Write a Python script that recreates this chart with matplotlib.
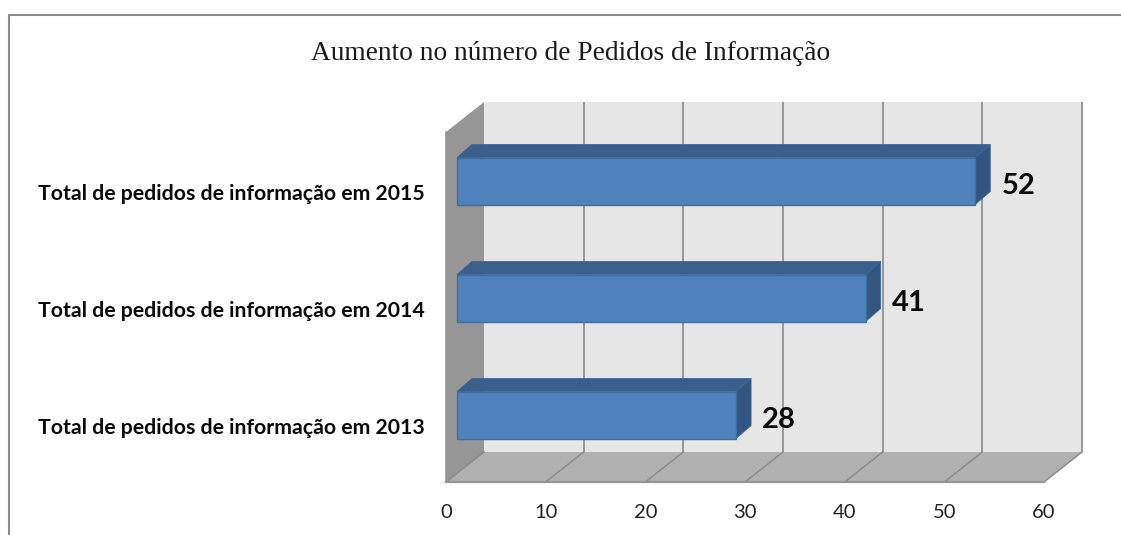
import matplotlib
matplotlib.use("Agg")
import matplotlib.pyplot as plt
from matplotlib.patches import Polygon
from matplotlib.lines import Line2D
from matplotlib.transforms import ScaledTranslation

titulo = "Aumento no número de Pedidos de Informação"
categorias = ["Total de pedidos de informação em 2013",
              "Total de pedidos de informação em 2014",
              "Total de pedidos de informação em 2015"]
valores = [28, 41, 52]
ticks = [0, 10, 20, 30, 40, 50, 60]

W, H = 1121, 535
# axes box in pixels (front edge of the floor, top of the side wall)
x0, x1 = 446, 1044
y_base, y_top = 482, 132
px_x = (x1 - x0) / 60.0   # pixels per unit
px_y = 117.0              # pixels per category
# 3d depth of the walls and of the bars
dx = 38 / px_x
dy = 30 / px_y
bar_dx = 15 / px_x
bar_dy = 13 / px_y
bar_start = 11 / px_x
bar_h = 47 / px_y

fig = plt.figure(figsize=(W / 100, H / 100), dpi=100, facecolor="white")
ax = fig.add_axes([x0 / W, 1 - y_base / H, (x1 - x0) / W, (y_base - y_top) / H])
ax.set_xlim(0, 60)
low = -(y_base - 415) / px_y
ax.set_ylim(low, low + (y_base - y_top) / px_y)
ymin, ymax = ax.get_ylim()

def poly(pts, color, edge=None, lw=0, z=1):
    ax.add_patch(Polygon(pts, closed=True, facecolor=color, edgecolor=edge or color,
                         linewidth=lw, clip_on=False, zorder=z))

# back wall, side wall, floor
poly([(dx, ymin + dy), (60 + dx, ymin + dy), (60 + dx, ymax + dy), (dx, ymax + dy)], "#e6e6e6")
poly([(0, ymin), (dx, ymin + dy), (dx, ymax + dy), (0, ymax)], "#969696")
poly([(0, ymin), (60, ymin), (60 + dx, ymin + dy), (dx, ymin + dy)], "#b0b0b0")

# grid on wall and floor
for t in ticks:
    if t > 0:
        ax.plot([t + dx, t + dx], [ymin + dy, ymax + dy], color="#969696", lw=1.4,
                clip_on=False, zorder=2, solid_capstyle="butt")
    ax.plot([t, t + dx], [ymin, ymin + dy], color="#8c8c8c", lw=1.1, clip_on=False, zorder=2)
ax.plot([0, 60], [ymin, ymin], color="#969696", lw=1.6, clip_on=False, zorder=2)
ax.plot([0, 0], [ymin, ymax], color="#969696", lw=1.2, clip_on=False, zorder=2)

# bars
for i, v in enumerate(valores):
    a = bar_start
    b = bar_start + v
    bot, top = i - bar_h / 2, i + bar_h / 2
    poly([(a, top), (b, top), (b + bar_dx, top + bar_dy), (a + bar_dx, top + bar_dy)],
         "#3b5f8c", "#3f6797", 0.6, 3)
    poly([(b, bot), (b + bar_dx, bot + bar_dy), (b + bar_dx, top + bar_dy), (b, top)],
         "#34557f", "#3f6797", 0.6, 3)
    poly([(a, bot), (b, bot), (b, top), (a, top)], "#4f81bd", "#3f6f9f", 1.0, 4)
    ax.text(b + 26 / px_x, i - 5 / px_y, str(v), fontsize=21, fontweight="bold", family="Lato",
            color="#0a0a0a", ha="left", va="center", zorder=5)

ax.set_xticks(ticks)
ax.set_xticklabels([str(t) for t in ticks], fontsize=14.5, family="Lato", color="#222222")
ax.set_yticks(range(3))
ax.set_yticklabels(categorias, fontsize=15.3, fontweight="bold", family="Lato", color="#0a0a0a")
ax.tick_params(axis="x", length=0, pad=16)
ax.tick_params(axis="y", length=0, pad=15)
# category labels sit a bit below the bar centre in the original
desplaza = ScaledTranslation(0, -11 / 100, fig.dpi_scale_trans)
for lab in ax.get_yticklabels():
    lab.set_transform(lab.get_transform() + desplaza)
for s in ax.spines.values():
    s.set_visible(False)
ax.patch.set_visible(False)

fig.text(571 / W, 1 - 53 / H, titulo, fontsize=19.7, family="Liberation Serif",
         color="#1a1a1a", ha="center", va="center")

# frame of the picture: only top and left are visible
fig.add_artist(Line2D([9 / W, 9 / W, 1], [0, 1 - 15 / H, 1 - 15 / H], color="#8c8c8c", lw=1.5))

fig.savefig("out.png", dpi=100)
